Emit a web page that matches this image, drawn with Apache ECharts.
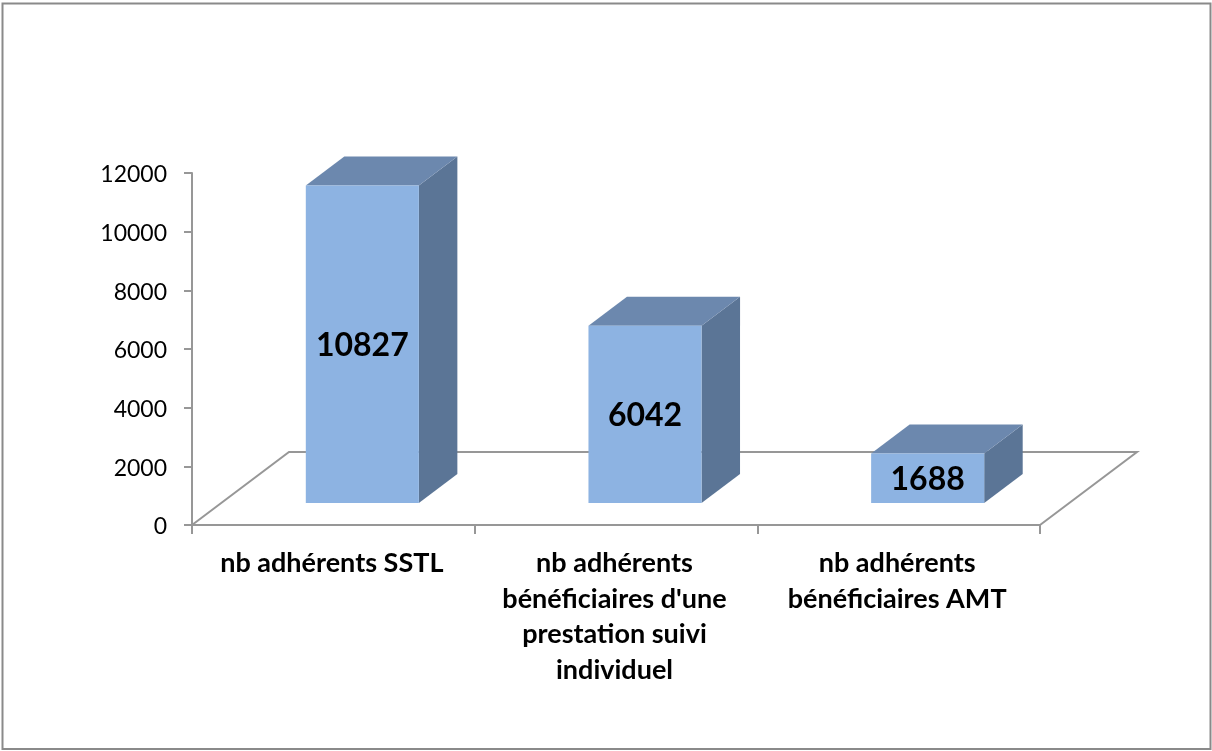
<!DOCTYPE html>
<html>
<head>
<meta charset="utf-8">
<style>html,body{margin:0;padding:0;background:#fff}#c{width:1212px;height:751px}</style>
<script src="https://cdn.jsdelivr.net/npm/echarts@6/dist/echarts.min.js"></script>
</head>
<body>
<div id="c"></div>
<script>
const categories = ["nb adhérents SSTL", "nb adhérents\nbénéficiaires d'une\nprestation suivi\nindividuel", "nb adhérents\nbénéficiaires AMT"];
const values = [10827, 6042, 1688];

const AXIS = '#979797';
const FRONT = '#8DB3E2', TOP = '#6C88AE', SIDE = '#5B7596';
const FONT = 'Lato, Carlito, "Open Sans", sans-serif';
const FLOOR_DX = 97, FLOOR_DY = 73;      // floor depth
const BAR_DX = 38.5, BAR_DY = 29;        // bar depth
const LIFT_X = 29, LIFT_Y = 22;          // bar foot position on the floor

function renderFloor(params, api) {
  const a = api.coord([0, 0]);
  const band = api.size([1, 0])[0];
  const xl = a[0] - band / 2, xr = xl + band * categories.length, y = a[1];
  return {
    type: 'polyline',
    shape: { points: [[xl, y], [xl + FLOOR_DX, y - FLOOR_DY], [xr + FLOOR_DX, y - FLOOR_DY], [xr, y]] },
    style: { fill: null, stroke: AXIS, lineWidth: 2 },
    z2: 1
  };
}

function renderBar(params, api) {
  const i = api.value(0), v = api.value(1);
  const base = api.coord([i, 0]);
  const topPt = api.coord([i, v]);
  const w = api.size([1, 0])[0] * 0.4;
  const x0 = base[0] - w / 2 + LIFT_X, x1 = x0 + w;
  const y0 = base[1] - LIFT_Y, y1 = topPt[1] - LIFT_Y;
  return {
    type: 'group',
    children: [
      { type: 'polygon', shape: { points: [[x1, y0], [x1 + BAR_DX, y0 - BAR_DY], [x1 + BAR_DX, y1 - BAR_DY], [x1, y1]] }, style: { fill: SIDE }, z2: 2 },
      { type: 'polygon', shape: { points: [[x0, y1], [x0 + BAR_DX, y1 - BAR_DY], [x1 + BAR_DX, y1 - BAR_DY], [x1, y1]] }, style: { fill: TOP }, z2: 2 },
      { type: 'rect', shape: { x: x0, y: y1, width: w, height: y0 - y1 }, style: { fill: FRONT }, z2: 3 },
      { type: 'text', z2: 4, style: { text: String(v), x: (x0 + x1) / 2, y: (y0 + y1) / 2 + 1.5, align: 'center', verticalAlign: 'middle', fill: '#000', font: 'bold 32px ' + FONT } }
    ]
  };
}

const chart = echarts.init(document.getElementById('c'), null, { renderer: 'canvas' });
chart.setOption({
  animation: false,
  backgroundColor: '#fff',
  graphic: [{
    type: 'rect', silent: true, z: -1,
    shape: { x: 2.5, y: 3.5, width: 1208, height: 745.5 },
    style: { fill: '#fff', stroke: '#8A8A8A', lineWidth: 2 }
  }],
  grid: { left: 192, right: 172, top: 173, bottom: 226 },
  xAxis: {
    type: 'category',
    data: categories,
    axisLine: { lineStyle: { color: AXIS, width: 2 } },
    axisTick: { show: true, alignWithLabel: false, length: 9, lineStyle: { color: AXIS, width: 2 } },
    axisLabel: { interval: 0, color: '#000', fontFamily: FONT, fontWeight: 'bold', fontSize: 27, lineHeight: 35.5, margin: 21, padding: [0, 3, 0, 0], verticalAlign: 'top' }
  },
  yAxis: {
    type: 'value', min: 0, max: 12000, interval: 2000,
    splitLine: { show: false },
    axisLine: { show: true, lineStyle: { color: AXIS, width: 2 } },
    axisTick: { show: true, length: 8, lineStyle: { color: AXIS, width: 2 } },
    axisLabel: { color: '#000', fontFamily: FONT, fontSize: 23, margin: 25, verticalAlign: 'top', lineHeight: 4, formatter: v => String(v) }
  },
  series: [
    { type: 'custom', coordinateSystem: 'cartesian2d', clip: false, silent: true, z: 1, data: [[0, 0]], renderItem: renderFloor, encode: { x: 0, y: 1 } },
    { type: 'custom', coordinateSystem: 'cartesian2d', clip: false, silent: true, z: 2, data: values.map((v, i) => [i, v]), renderItem: renderBar, encode: { x: 0, y: 1 } }
  ]
});
</script>
</body>
</html>
